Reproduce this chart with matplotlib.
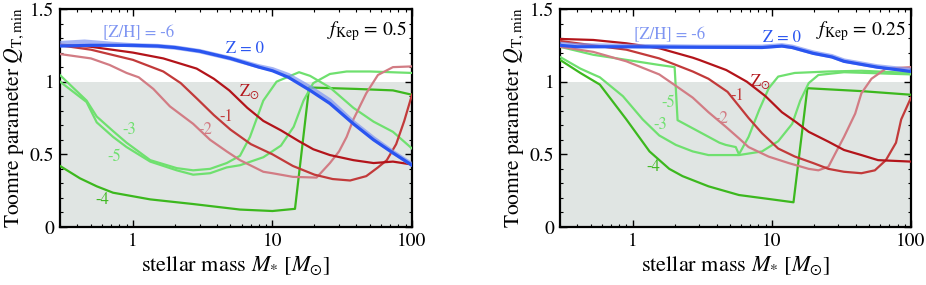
import matplotlib
matplotlib.use("Agg")
import matplotlib.pyplot as plt
from matplotlib.ticker import FixedLocator, LogLocator, NullFormatter, FuncFormatter

plt.rcParams['font.family'] = ['STIXGeneral', 'DejaVu Serif']
plt.rcParams['mathtext.fontset'] = 'stix'

# ---------------- data: f_Kep = 0.5 (left) ----------------
L_z0_x = [0.3, 0.5, 1, 1.5, 2, 3, 5, 8, 10, 13, 18.6, 25.8, 38, 53, 73, 100]
L_z0_y = [1.245, 1.25, 1.25, 1.245, 1.235, 1.21, 1.16, 1.10, 1.075, 1.03, 0.94, 0.85, 0.71, 0.60, 0.51, 0.425]
L_m6_x = [0.3, 0.45, 0.7, 1, 1.5, 2, 3, 5, 8, 10, 13, 18.6, 25.8, 38, 53, 73, 100]
L_m6_y = [1.265, 1.275, 1.26, 1.25, 1.245, 1.235, 1.21, 1.16, 1.105, 1.085, 1.045, 0.96, 0.87, 0.72, 0.61, 0.515, 0.43]
L_sun_x = [0.3, 0.5, 1, 1.65, 2.86, 3.8, 4.9, 6.6, 8.6, 11.5, 15.5, 19.6, 25.8, 38, 53, 73, 100]
L_sun_y = [1.255, 1.24, 1.20, 1.16, 1.09, 1.02, 0.94, 0.82, 0.73, 0.665, 0.59, 0.535, 0.495, 0.46, 0.44, 0.45, 0.43]
L_m1_x = [0.3, 0.5, 1, 1.65, 2.2, 2.9, 3.8, 5, 7, 10, 14, 20, 27, 36, 47, 57, 66, 77, 88, 100]
L_m1_y = [1.25, 1.22, 1.15, 1.07, 0.99, 0.88, 0.77, 0.67, 0.57, 0.50, 0.42, 0.36, 0.33, 0.32, 0.35, 0.41, 0.46, 0.57, 0.73, 0.91]
L_m2_x = [0.3, 0.5, 0.68, 0.9, 1.1, 1.4, 1.84, 2.7, 3.57, 4.7, 5.85, 8.6, 10, 14, 20.7, 25.8, 30, 34, 38, 47, 57, 73, 100]
L_m2_y = [1.19, 1.16, 1.115, 1.06, 1.03, 0.95, 0.83, 0.71, 0.60, 0.52, 0.46, 0.38, 0.37, 0.345, 0.34, 0.44, 0.52, 0.62, 0.74, 0.92, 1.046, 1.10, 1.105]
L_m3_x = [0.3, 0.465, 0.55, 0.72, 0.9, 1.33, 2.06, 2.7, 3.57, 4.7, 5.85, 6.9, 8.6, 10.7, 15.5, 18.6, 25.8, 38, 53, 73, 100]
L_m3_y = [1.045, 0.87, 0.76, 0.66, 0.58, 0.46, 0.405, 0.39, 0.40, 0.44, 0.49, 0.62, 0.87, 1.0, 1.065, 1.04, 0.96, 0.82, 0.725, 0.655, 0.54]
L_m5_x = [0.3, 0.465, 0.55, 0.72, 0.9, 1.33, 2.06, 2.7, 3.57, 4.7, 5.85, 8.6, 11.5, 14.2, 16.7, 19.6, 25.8, 34, 50, 100]
L_m5_y = [1.0, 0.86, 0.72, 0.62, 0.55, 0.45, 0.39, 0.36, 0.37, 0.41, 0.425, 0.48, 0.56, 0.69, 0.87, 0.99, 1.053, 1.07, 1.07, 1.06]
L_m4_x = [0.3, 0.417, 0.55, 0.72, 1.33, 2.7, 5.85, 10, 14.5, 18.3, 40, 73, 100]
L_m4_y = [0.42, 0.335, 0.28, 0.236, 0.19, 0.158, 0.12, 0.11, 0.125, 0.96, 0.95, 0.94, 0.91]

# ---------------- data: f_Kep = 0.25 (right) ----------------
R_z0_x = [0.3, 0.4, 1, 3, 8.5, 11.8, 14, 19.8, 27, 33, 57, 100]
R_z0_y = [1.25, 1.24, 1.24, 1.237, 1.235, 1.245, 1.235, 1.195, 1.17, 1.14, 1.10, 1.07]
R_m6_x = [0.3, 0.4, 1, 3, 8.5, 11.8, 14, 19.8, 27, 33, 57, 100]
R_m6_y = [1.26, 1.25, 1.245, 1.24, 1.24, 1.25, 1.24, 1.20, 1.175, 1.145, 1.105, 1.08]
R_sun_x = [0.3, 0.52, 0.9, 1.55, 2.7, 3.0, 4.7, 6.6, 9.0, 11.8, 15, 18.4, 25.5, 33, 44, 58, 100]
R_sun_y = [1.294, 1.287, 1.264, 1.23, 1.165, 1.15, 1.08, 1.0, 0.90, 0.79, 0.72, 0.655, 0.587, 0.53, 0.495, 0.46, 0.45]
R_m1_x = [0.3, 0.52, 0.9, 1.55, 2.7, 3.5, 4.8, 6.8, 8.5, 11.1, 14.6, 19.8, 25.5, 33, 44, 55, 66, 78, 85, 100]
R_m1_y = [1.28, 1.25, 1.22, 1.16, 1.07, 1.02, 0.93, 0.75, 0.645, 0.54, 0.485, 0.44, 0.40, 0.38, 0.37, 0.39, 0.46, 0.58, 0.74, 0.89]
R_m2_x = [0.3, 0.52, 0.9, 1.55, 2.0, 2.7, 3.5, 4.66, 5.8, 6.8, 9.5, 13.2, 18.4, 21.6, 25.5, 28.6, 33, 39.7, 44, 52, 66, 100]
R_m2_y = [1.24, 1.205, 1.14, 1.05, 0.977, 0.89, 0.79, 0.69, 0.61, 0.55, 0.484, 0.44, 0.40, 0.39, 0.415, 0.507, 0.62, 0.78, 0.92, 1.02, 1.09, 1.10]
R_m3_x = [0.3, 0.42, 0.52, 0.58, 0.85, 1.18, 1.55, 2.04, 2.7, 3.5, 5.8, 8.5, 11.1, 14, 16, 18.4, 21.6, 33, 100]
R_m3_y = [1.17, 1.09, 1.05, 1.03, 0.90, 0.74, 0.63, 0.565, 0.52, 0.495, 0.495, 0.52, 0.59, 0.71, 0.87, 0.99, 1.046, 1.065, 1.05]
R_m5_x = [0.3, 0.52, 0.9, 1.55, 2.0, 2.1, 3.36, 4.2, 4.66, 5.5, 5.8, 6.8, 8.1, 9.5, 11.1, 14.6, 25.5, 44, 100]
R_m5_y = [1.24, 1.185, 1.15, 1.115, 1.10, 0.735, 0.63, 0.58, 0.565, 0.55, 0.50, 0.62, 0.805, 0.955, 1.035, 1.06, 1.07, 1.075, 1.06]
R_m4_x = [0.3, 0.42, 0.58, 0.9, 1.32, 1.83, 2.28, 3.5, 5.8, 10, 14.3, 18, 44, 100]
R_m4_y = [1.15, 1.06, 0.98, 0.74, 0.52, 0.40, 0.35, 0.28, 0.22, 0.19, 0.17, 0.955, 0.935, 0.91]

C_Z0 = '#2a55f0'
C_M6 = '#7f95f2'
C_SUN = '#b3141a'
C_M1 = '#c23a3a'
C_M2 = '#d27c84'
C_LG = '#6fe06f'
C_M4 = '#3cb81e'
SHADE = '#e0e5e3'

fig = plt.figure(figsize=(9.26, 2.85), dpi=100)
axL = fig.add_axes([60/926, 1-227/285, 352/926, 218/285])
axR = fig.add_axes([560/926, 1-227/285, 351/926, 218/285])

def draw(ax, d, fkep, labels):
    ax.set_xscale('log')
    ax.set_xlim(0.3, 100)
    ax.set_ylim(0, 1.5)
    ax.axhspan(0, 1, color=SHADE, zorder=0, lw=0)
    ax.plot(d['m4'][0], d['m4'][1], color=C_M4, lw=1.6, zorder=3)
    ax.plot(d['m3'][0], d['m3'][1], color=C_LG, lw=1.6, zorder=3)
    ax.plot(d['m5'][0], d['m5'][1], color=C_LG, lw=1.6, zorder=3)
    ax.plot(d['m2'][0], d['m2'][1], color=C_M2, lw=1.6, zorder=4)
    ax.plot(d['m1'][0], d['m1'][1], color=C_M1, lw=1.6, zorder=4)
    ax.plot(d['sun'][0], d['sun'][1], color=C_SUN, lw=1.6, zorder=4)
    ax.plot(d['m6'][0], d['m6'][1], color=C_M6, lw=3.2, alpha=0.7, zorder=5)
    ax.plot(d['z0'][0], d['z0'][1], color=C_Z0, lw=2.3, zorder=6)
    for txt, x, y, c in labels:
        ax.text(x, y, txt, color=c, fontsize=12, ha='center', va='center', zorder=7)
    ax.text(0.985, 0.9, r'$f_{\mathrm{Kep}}$' + ' = ' + fkep, transform=ax.transAxes,
            ha='right', va='center', fontsize=14)
    ax.xaxis.set_major_locator(FixedLocator([1, 10, 100]))
    ax.xaxis.set_major_formatter(FuncFormatter(lambda v, p: '%g' % v))
    ax.xaxis.set_minor_locator(LogLocator(base=10, subs=range(2, 10), numticks=20))
    ax.xaxis.set_minor_formatter(NullFormatter())
    ax.set_yticks([0, 0.5, 1, 1.5])
    ax.yaxis.set_major_formatter(FuncFormatter(lambda v, p: '%g' % v))
    ax.set_yticks([i / 10 for i in range(16)], minor=True)
    ax.tick_params(which='both', direction='in', top=True, right=True, labelsize=14, pad=4)
    ax.tick_params(which='major', length=5, width=1)
    ax.tick_params(which='minor', length=2.5, width=0.8)
    for s in ax.spines.values():
        s.set_linewidth(1.6)
    ax.set_xlabel(r'stellar mass $M_{*}$ [$M_{\odot}$]', fontsize=16, labelpad=3)
    ax.set_ylabel(r'Toomre parameter $Q_{\mathrm{T,min}}$', fontsize=15.5, labelpad=3)

dL = {'z0': (L_z0_x, L_z0_y), 'm6': (L_m6_x, L_m6_y), 'sun': (L_sun_x, L_sun_y),
      'm1': (L_m1_x, L_m1_y), 'm2': (L_m2_x, L_m2_y), 'm3': (L_m3_x, L_m3_y),
      'm5': (L_m5_x, L_m5_y), 'm4': (L_m4_x, L_m4_y)}
dR = {'z0': (R_z0_x, R_z0_y), 'm6': (R_m6_x, R_m6_y), 'sun': (R_sun_x, R_sun_y),
      'm1': (R_m1_x, R_m1_y), 'm2': (R_m2_x, R_m2_y), 'm3': (R_m3_x, R_m3_y),
      'm5': (R_m5_x, R_m5_y), 'm4': (R_m4_x, R_m4_y)}

labL = [('[Z/H] = -6', 1.1, 1.33, C_M6), ('Z = 0', 6.3, 1.225, C_Z0),
        (r'Z$_{\odot}$', 6.8, 0.93, C_SUN), ('-1', 4.7, 0.757, C_M1),
        ('-2', 3.3, 0.668, C_M2), ('-3', 0.94, 0.668, C_LG),
        ('-5', 0.74, 0.48, C_LG), ('-4', 0.6, 0.186, C_M4)]
labR = [('[Z/H] = -6', 1.85, 1.32, C_M6), ('Z = 0', 11.8, 1.30, C_Z0),
        (r'Z$_{\odot}$', 8.2, 1.0, C_SUN), ('-1', 5.6, 0.90, C_M1),
        ('-2', 4.3, 0.74, C_M2), ('-5', 1.8, 0.85, C_LG),
        ('-3', 1.58, 0.70, C_LG), ('-4', 1.41, 0.41, C_M4)]

draw(axL, dL, '0.5', labL)
draw(axR, dR, '0.25', labR)

fig.savefig('out.png', dpi=100)
